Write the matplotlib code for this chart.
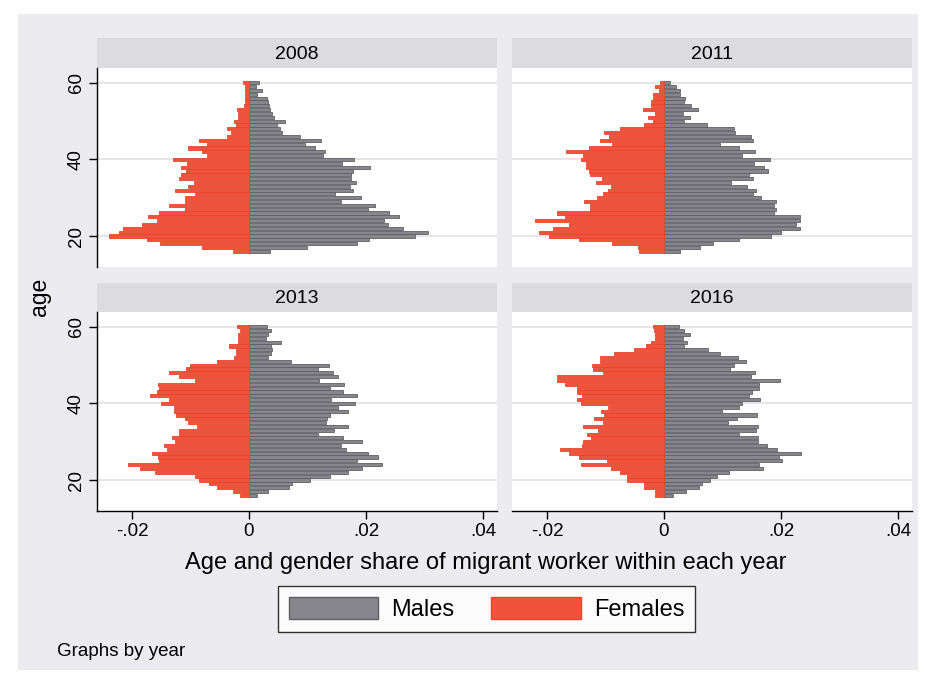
import matplotlib
matplotlib.use('Agg')
import matplotlib.pyplot as plt
from matplotlib.patches import Rectangle, Patch

plt.rcParams['font.family'] = ['Liberation Sans', 'DejaVu Sans']

# ---------------- data (ages listed from 60 down to 16) ----------------
ages = list(range(60, 15, -1))
years = [2008, 2011, 2013, 2016]

males_2008 = [.0017, .0012, .0022, .0014, .0031, .0033, .0035, .0036, .0040, .0042,
              .0062, .0048, .0053, .0056, .0087, .0123, .0096, .0113, .0130, .0127,
              .0180, .0159, .0207, .0177, .0175, .0174, .0183, .0173, .0178, .0147,
              .0191, .0157, .0216, .0203, .0239, .0256, .0230, .0237, .0263, .0306,
              .0283, .0205, .0185, .0100, .0036]
females_2008 = [.0010, .0006, .0007, .0007, .0006, .0007, .0008, .0021, .0018, .0018,
                .0026, .0022, .0037, .0030, .0037, .0086, .0072, .0104, .0080, .0072,
                .0130, .0106, .0117, .0108, .0116, .0120, .0094, .0105, .0127, .0092,
                .0109, .0109, .0137, .0109, .0154, .0173, .0157, .0183, .0215, .0222,
                .0239, .0174, .0152, .0081, .0028]

males_2011 = [.0010, .0021, .0027, .0027, .0036, .0034, .0046, .0059, .0033, .0044,
              .0035, .0074, .0120, .0121, .0149, .0152, .0096, .0128, .0155, .0133,
              .0182, .0154, .0171, .0178, .0145, .0153, .0115, .0142, .0157, .0152,
              .0166, .0191, .0188, .0191, .0188, .0232, .0232, .0226, .0232, .0200,
              .0183, .0128, .0084, .0062, .0027]
females_2011 = [.0006, .0016, .0008, .0018, .0018, .0022, .0022, .0036, .0015, .0027,
                .0019, .0035, .0076, .0102, .0094, .0110, .0089, .0128, .0168, .0138,
                .0141, .0134, .0134, .0128, .0127, .0106, .0117, .0091, .0095, .0105,
                .0115, .0136, .0127, .0126, .0183, .0169, .0220, .0163, .0189, .0214,
                .0197, .0146, .0089, .0044, .0042]

males_2013 = [.0030, .0038, .0032, .0029, .0054, .0038, .0039, .0038, .0033, .0072,
              .0136, .0118, .0144, .0153, .0120, .0162, .0138, .0160, .0185, .0141,
              .0181, .0152, .0170, .0138, .0133, .0132, .0169, .0146, .0118, .0161,
              .0193, .0157, .0166, .0203, .0221, .0185, .0227, .0193, .0170, .0138,
              .0104, .0074, .0068, .0033, .0013]
females_2013 = [.0020, .0015, .0018, .0018, .0018, .0035, .0022, .0023, .0025, .0055,
                .0101, .0108, .0136, .0120, .0092, .0156, .0153, .0157, .0169, .0137,
                .0150, .0129, .0129, .0125, .0110, .0105, .0088, .0120, .0120, .0131,
                .0127, .0146, .0140, .0165, .0156, .0153, .0207, .0186, .0160, .0092,
                .0086, .0068, .0054, .0027, .0016]

males_2016 = [.0026, .0035, .0044, .0032, .0039, .0034, .0075, .0096, .0126, .0141,
              .0120, .0113, .0156, .0149, .0198, .0162, .0162, .0150, .0146, .0164,
              .0133, .0129, .0099, .0159, .0125, .0109, .0160, .0157, .0129, .0161,
              .0161, .0176, .0193, .0235, .0197, .0201, .0162, .0169, .0111, .0091,
              .0079, .0065, .0060, .0038, .0015]
females_2016 = [.0019, .0017, .0016, .0016, .0023, .0031, .0052, .0085, .0110, .0110,
                .0123, .0122, .0104, .0183, .0183, .0170, .0148, .0148, .0140, .0149,
                .0141, .0095, .0108, .0102, .0119, .0104, .0138, .0112, .0131, .0124,
                .0138, .0140, .0177, .0163, .0146, .0098, .0142, .0091, .0076, .0063,
                .0063, .0034, .0034, .0016, .0016]

males = [males_2008, males_2011, males_2013, males_2016]
females = [females_2008, females_2011, females_2013, females_2016]

xticks = [-0.02, 0, 0.02, 0.04]
xtick_labels = ['-.02', '0', '.02', '.04']
yticks = [20, 40, 60]
ytick_labels = ['20', '40', '60']

# ---------------- styling ----------------
W, H = 935, 683
MALE_C = '#86868c'
MALE_E = '#5e5e64'
FEM_C = '#f0533b'
FEM_E = '#e8452d'
STRIP_C = '#dcdce0'
BG_C = '#ececf0'

fig = plt.figure(figsize=(W / 100, H / 100), dpi=100)
fig.patch.set_facecolor('white')


def rect(x0, y0, x1, y1):
    return [x0 / W, 1 - y1 / H, (x1 - x0) / W, (y1 - y0) / H]


fig.add_artist(Rectangle((18 / W, 1 - 670 / H), (918 - 18) / W, (670 - 14) / H,
                         transform=fig.transFigure, facecolor=BG_C,
                         edgecolor='none', zorder=0))

layout = [  # x0, x1, strip_top, plot_top, plot_bottom, left, bottom
    (97, 497, 38, 68, 267, True, False),
    (512, 912, 38, 68, 267, False, False),
    (97, 497, 283, 312, 511, True, True),
    (512, 912, 283, 312, 511, False, True),
]

for i, (x0, x1, st, pt, pb, is_left, is_bottom) in enumerate(layout):
    sax = fig.add_axes(rect(x0, st, x1, pt))
    sax.set_facecolor(STRIP_C)
    sax.set_xticks([]); sax.set_yticks([])
    for s in sax.spines.values():
        s.set_visible(False)
    sax.text(0.5, 0.45, str(years[i]), ha='center', va='center', fontsize=14,
             transform=sax.transAxes)

    ax = fig.add_axes(rect(x0, pt, x1, pb))
    ax.set_facecolor('white')
    ax.barh(ages, males[i], height=0.82, color=MALE_C, edgecolor=MALE_E,
            linewidth=0.6, zorder=3)
    ax.barh(ages, [-v for v in females[i]], height=0.82, color=FEM_C,
            edgecolor=FEM_E, linewidth=0.6, zorder=3)
    ax.set_xlim(-0.02598, 0.0424)
    ax.set_ylim(11.9, 63.9)
    ax.set_yticks(yticks)
    ax.set_yticklabels(ytick_labels, rotation=90, va='center')
    ax.set_xticks(xticks)
    ax.set_xticklabels(xtick_labels)
    ax.yaxis.grid(True, color='#e4e4e6', linewidth=1.3, zorder=0)
    ax.set_axisbelow(True)
    for s in ['top', 'right']:
        ax.spines[s].set_visible(False)
    ax.spines['left'].set_visible(is_left)
    ax.spines['bottom'].set_visible(is_bottom)
    ax.spines['left'].set_linewidth(1.0)
    ax.spines['bottom'].set_linewidth(1.0)
    ax.tick_params(axis='y', left=is_left, labelleft=is_left, length=6,
                   width=1.0, labelsize=13.5, pad=3)
    ax.tick_params(axis='x', bottom=is_bottom, labelbottom=is_bottom, length=6,
                   width=1.0, labelsize=13.5, pad=3)

fig.text(40 / W, 1 - 297 / H, 'age', rotation=90, ha='center', va='center',
         fontsize=16.5)
fig.text(486 / W, 1 - 563 / H,
         'Age and gender share of migrant worker within each year',
         ha='center', va='center', fontsize=17)

handles = [Patch(facecolor=MALE_C, edgecolor=MALE_E, label='Males'),
           Patch(facecolor=FEM_C, edgecolor=FEM_E, label='Females')]
leg = fig.legend(handles=handles, loc='center', ncol=2,
                 bbox_to_anchor=(486.5 / W, 1 - 609 / H), frameon=True,
                 fancybox=False, edgecolor='black', fontsize=17,
                 handlelength=3.8, handleheight=1.05, columnspacing=1.55,
                 handletextpad=0.55, borderpad=0.45, borderaxespad=0)
leg.get_frame().set_linewidth(1.0)

fig.text(57 / W, 1 - 651 / H, 'Graphs by year', ha='left', va='center',
         fontsize=13.5)

fig.savefig('out.png', dpi=100, facecolor=fig.get_facecolor())
